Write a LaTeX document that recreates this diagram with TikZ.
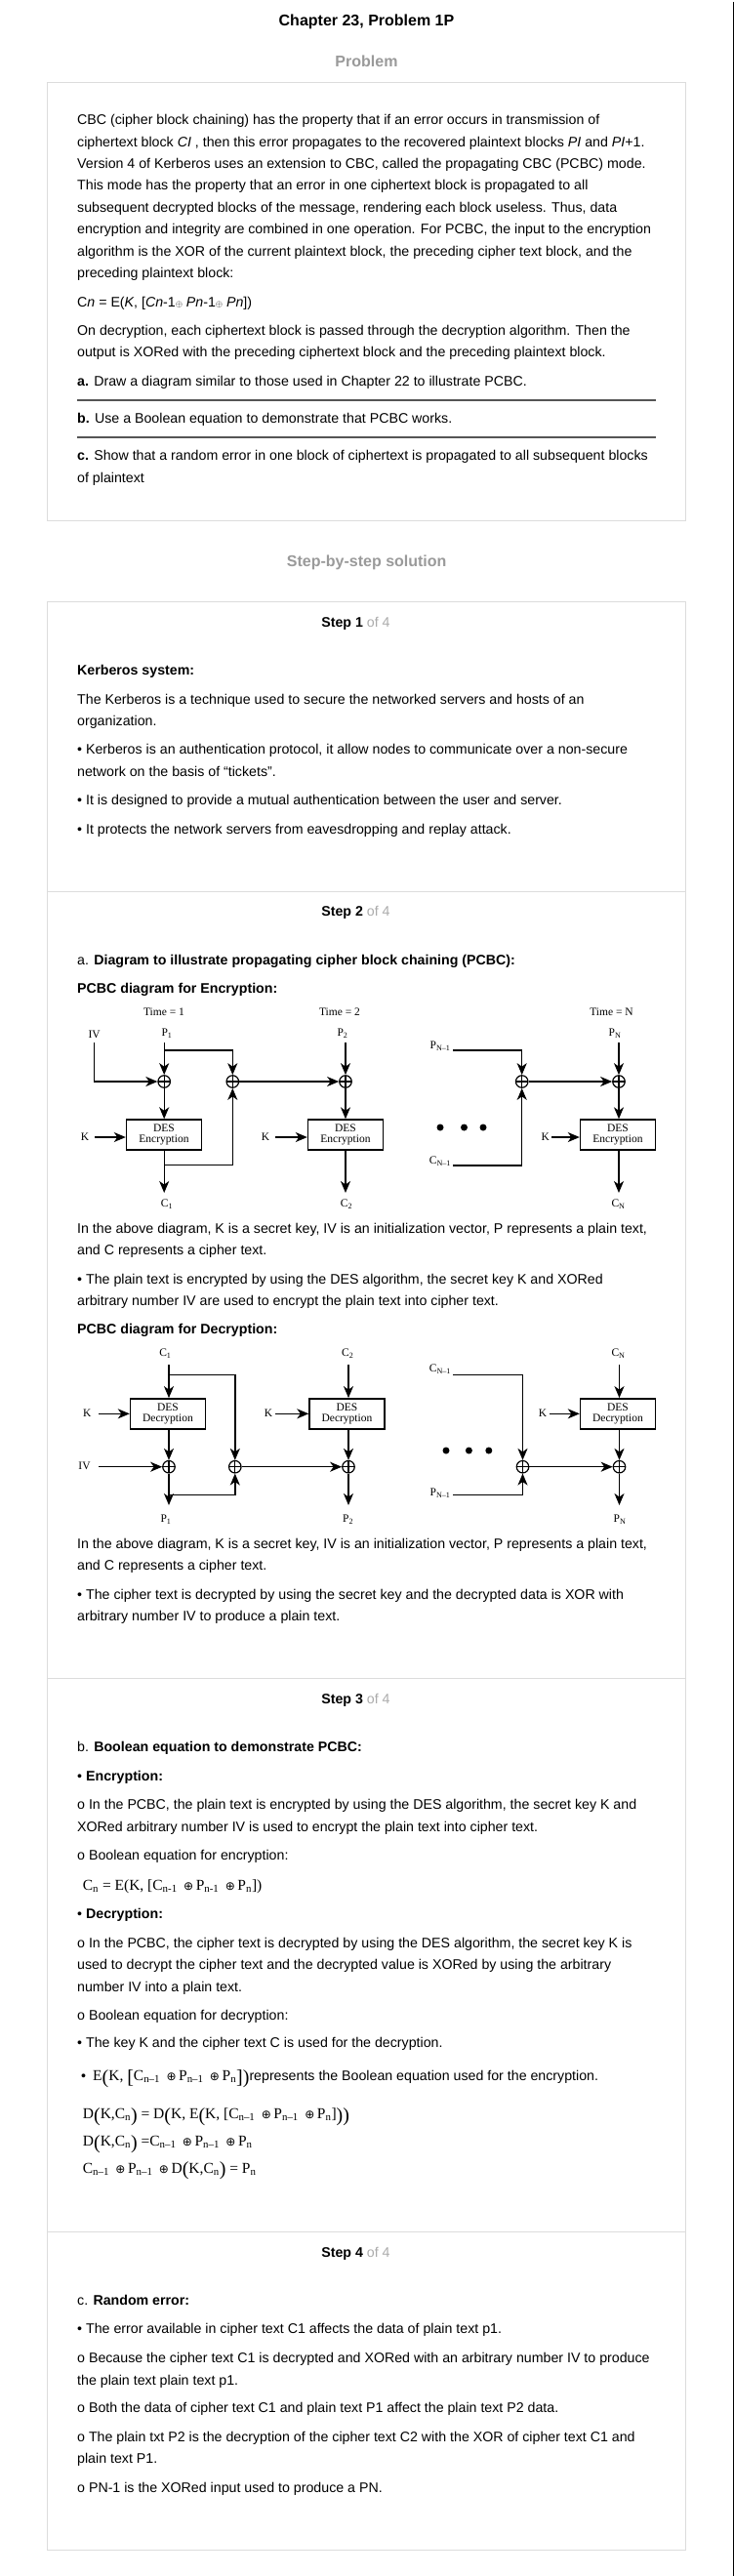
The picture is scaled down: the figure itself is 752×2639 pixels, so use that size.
\documentclass[tikz,border=0pt]{standalone}
\usepackage{fontspec}
\setmainfont{Liberation Sans}
\newfontfamily\serifd{Liberation Serif}
\newfontfamily\dvsans{DejaVu Sans}
\usetikzlibrary{arrows.meta}
\definecolor{boxgray}{HTML}{DCDCDC}
\definecolor{headgray}{HTML}{9A9A9A}
\definecolor{ofgray}{HTML}{ABABAB}
\definecolor{rulegray}{HTML}{555555}
\newcommand{\subs}[1]{\textsubscript{#1}}
\newcommand{\xorsm}{\raisebox{0.5pt}{\fontsize{9}{9}\selectfont$\oplus$}}
\newcommand{\xq}{\,{\dvsans\fontsize{12}{12}\selectfont ⊕}\,}
\newcommand{\Lpar}{\raisebox{-2.5pt}{\fontsize{20}{20}\selectfont(}}
\newcommand{\Rpar}{\raisebox{-2.5pt}{\fontsize{20}{20}\selectfont)}}
\newcommand{\Lbrk}{\raisebox{-2.5pt}{\fontsize{20}{20}\selectfont[}}
\newcommand{\Rbrk}{\raisebox{-2.5pt}{\fontsize{20}{20}\selectfont]}}
\tikzset{
  tx/.style={anchor=base west, inner sep=0pt, font=\fontsize{14.2}{17}\selectfont},
  hd/.style={anchor=base, inner sep=0pt, font=\bfseries\fontsize{16}{19}\selectfont},
  sth/.style={anchor=base west, inner sep=0pt, font=\fontsize{14.2}{17}\selectfont},
  eqn/.style={anchor=base west, inner sep=0pt, font=\serifd\fontsize{15.5}{18}\selectfont},
  boxline/.style={draw=boxgray, line width=1.4pt},
  sepline/.style={draw=boxgray, line width=1.4pt},
  qrule/.style={draw=rulegray, line width=2pt},
  dln/.style={line width=1.4pt},
  dar/.style={line width=1.4pt, -{Stealth[length=12pt,width=10pt,inset=3.5pt]}},
  xor/.style={circle, draw, line width=1.2pt, minimum size=12.5pt, inner sep=0pt,
    path picture={\draw[line width=1.2pt] (path picture bounding box.north) -- (path picture bounding box.south)
      (path picture bounding box.west) -- (path picture bounding box.east);}},
  des/.style={draw, line width=1.4pt, minimum width=77pt, minimum height=31pt, inner sep=0pt,
    align=center, font=\serifd\fontsize{11.5}{11}\selectfont},
  dl/.style={inner sep=0pt, font=\serifd\fontsize{11.5}{12}\selectfont},
  bigdot/.style={circle, fill, inner sep=0pt, minimum size=7pt}
}
\begin{document}
\begin{tikzpicture}[x=1pt,y=-1pt]
\useasboundingbox (0,0) rectangle (752,2639);
\fill[white] (0,0) rectangle (752,2639);
\draw[line width=1.4pt] (751.3,2) -- (751.3,2639);

% ---------- headings ----------
\node[hd] (title) at (375.5,27) {Chapter 23, Problem 1P};
\node[hd, text=headgray] (probh) at (375.5,68.6) {Problem};
\node[hd, text=headgray] (solh) at (375.7,580.7) {Step-by-step solution};

% ---------- problem box ----------
\draw[boxline] (48.7,84.4) rectangle (702.3,533.3);
\node[tx] (q1) at (79,127.8) {CBC (cipher block chaining) has the property that if an error occurs in transmission of};
\node[tx] (q2) at (79,150.5) {ciphertext block \textit{CI} , then this error propagates to the recovered plaintext blocks \textit{PI} and \textit{PI}+1.};
\node[tx] (q3) at (79,172.5) {Version 4 of Kerberos uses an extension to CBC, called the propagating CBC (PCBC) mode.};
\node[tx] (q4) at (79,194.3) {This mode has the property that an error in one ciphertext block is propagated to all};
\node[tx] (q5) at (79,217.7) {subsequent decrypted blocks of the message, rendering each block useless. Thus, data};
\node[tx] (q6) at (79,239.8) {encryption and integrity are combined in one operation. For PCBC, the input to the encryption};
\node[tx] (q7) at (79,262.5) {algorithm is the XOR of the current plaintext block, the preceding cipher text block, and the};
\node[tx] (q8) at (79,284.9) {preceding plaintext block:};
\node[tx] (q9) at (79,314.5) {C\textit{n} = E(\textit{K}, [\textit{Cn}-1\xorsm{} \textit{Pn}-1\xorsm{} \textit{Pn}])};
\node[tx] (q10) at (79,343.8) {On decryption, each ciphertext block is passed through the decryption algorithm. Then the};
\node[tx] (q11) at (79,365.9) {output is XORed with the preceding ciphertext block and the preceding plaintext block.};
\node[tx] (q12) at (79,395.8) {\textbf{a.} Draw a diagram similar to those used in Chapter 22 to illustrate PCBC.};
\draw[qrule] (79,410) -- (671.5,410);
\node[tx] (q13) at (79,433.7) {\textbf{b.} Use a Boolean equation to demonstrate that PCBC works.};
\draw[qrule] (79,447.8) -- (671.5,447.8);
\node[tx] (q14) at (79,471.9) {\textbf{c.} Show that a random error in one block of ciphertext is propagated to all subsequent blocks};
\node[tx] (q15) at (79,494) {of plaintext};

% ---------- solution box ----------
\draw[boxline] (48.7,616.7) rectangle (702.3,2612.2);
\draw[sepline] (48.7,913.3) -- (702.3,913.3);
\draw[sepline] (48.7,1719.3) -- (702.3,1719.3);
\draw[sepline] (48.7,2286.7) -- (702.3,2286.7);

% Step 1
\node[sth] (s1h) at (329.2,642.5) {\textbf{Step 1} \textcolor{ofgray}{of 4}};
\node[tx] (a1) at (79,691.2) {\textbf{Kerberos system:}};
\node[tx] (a2) at (79,721.2) {The Kerberos is a technique used to secure the networked servers and hosts of an};
\node[tx] (a3) at (79,743.8) {organization.};
\node[tx] (a4) at (79,772.8) {• Kerberos is an authentication protocol, it allow nodes to communicate over a non-secure};
\node[tx] (a5) at (79,795.2) {network on the basis of “tickets”.};
\node[tx] (a6) at (79,824.5) {• It is designed to provide a mutual authentication between the user and server.};
\node[tx] (a7) at (79,854.5) {• It protects the network servers from eavesdropping and replay attack.};

% Step 2
\node[sth] (s2h) at (329.2,938.8) {\textbf{Step 2} \textcolor{ofgray}{of 4}};
\node[tx] (b1t) at (79,988.5) {a. \textbf{Diagram to illustrate propagating cipher block chaining (PCBC):}};
\node[tx] (b2t) at (79,1017.8) {\textbf{PCBC diagram for Encryption:}};

% --- encryption diagram ---
\node[dl] (et1) at (168,1037) {Time = 1};
\node[dl] (et2) at (348,1037) {Time = 2};
\node[dl] (etN) at (626.5,1037) {Time = N};
\node[dl] (eiv) at (96.7,1060) {IV};
\node[dl] (ep1) at (171,1059) {P\subs{1}};
\node[dl] (ep2) at (351,1059) {P\subs{2}};
\node[dl] (epN) at (630,1059) {P\subs{N}};
\node[dl] (epN1) at (451,1072) {P\subs{N–1}};
\node[xor] (ex1) at (168.2,1108) {};
\node[xor] (exm) at (238.3,1108) {};
\node[xor] (ex2) at (354,1108) {};
\node[xor] (exn1) at (534.7,1108) {};
\node[xor] (exn) at (634,1108) {};
\node[des] (eb1) at (168,1162.5) {DES\\Encryption};
\node[des] (eb2) at (354,1162.5) {DES\\Encryption};
\node[des] (ebN) at (633,1162.5) {DES\\Encryption};
\node[dl] (ek1) at (87,1165) {K};
\node[dl] (ek2) at (272,1165) {K};
\node[dl] (ekN) at (558.8,1165) {K};
\node[dl] (ec1) at (171,1234) {C\subs{1}};
\node[dl] (ec2) at (355,1234) {C\subs{2}};
\node[dl] (ecN) at (633.5,1234) {C\subs{N}};
\node[dl] (ecN1) at (451,1190) {C\subs{N–1}};
\node[bigdot] (ed1) at (451,1155) {};
\node[bigdot] (ed2) at (475.5,1155) {};
\node[bigdot] (ed3) at (495,1155) {};
\coordinate (eivs) at (96.7,1068);
\coordinate (ep1s) at (168.2,1068);
\coordinate (ebr1) at (168.2,1076);
\coordinate (ebr2) at (168.2,1193.5);
\coordinate (ec1s) at (168.2,1222);
\coordinate (ep2s) at (354,1068);
\coordinate (ec2s) at (354,1222);
\coordinate (epNs) at (634,1068);
\coordinate (ecNs) at (634,1222);
\coordinate (epN1s) at (464,1076);
\coordinate (ecN1s) at (464,1194);
\coordinate (ek1s) at (97,1165);
\coordinate (ek2s) at (282.4,1165);
\coordinate (ekNs) at (565.3,1165);
\draw[dar] (ep1s) -- (ex1);
\draw[dar] (ebr1) -| (exm);
\draw[dar] (eivs) |- (ex1);
\draw[dar] (ex1) -- (eb1.north -| ex1);
\draw[dar] (ek1s) -- (ek1s -| eb1.west);
\draw[dar] (eb1.south -| ex1) -- (ec1s);
\draw[dar] (ebr2) -| (exm);
\draw[dar] (exm) -- (ex2);
\draw[dar] (ep2s) -- (ex2);
\draw[dar] (ex2) -- (eb2.north -| ex2);
\draw[dar] (ek2s) -- (ek2s -| eb2.west);
\draw[dar] (eb2.south -| ex2) -- (ec2s);
\draw[dar] (epN1s) -| (exn1);
\draw[dar] (ecN1s) -| (exn1);
\draw[dar] (exn1) -- (exn);
\draw[dar] (epNs) -- (exn);
\draw[dar] (exn) -- (ebN.north -| exn);
\draw[dar] (ekNs) -- (ekNs -| ebN.west);
\draw[dar] (ebN.south -| exn) -- (ecNs);

\node[tx] (b3t) at (79,1263.8) {In the above diagram, K is a secret key, IV is an initialization vector, P represents a plain text,};
\node[tx] (b4t) at (79,1285.5) {and C represents a cipher text.};
\node[tx] (b5t) at (79,1315.2) {• The plain text is encrypted by using the DES algorithm, the secret key K and XORed};
\node[tx] (b6t) at (79,1337.8) {arbitrary number IV are used to encrypt the plain text into cipher text.};
\node[tx] (b7t) at (79,1366.8) {\textbf{PCBC diagram for Decryption:}};

% --- decryption diagram ---
\node[dl] (dc1) at (169.4,1387) {C\subs{1}};
\node[dl] (dc2) at (356.3,1387) {C\subs{2}};
\node[dl] (dcN) at (633.5,1387) {C\subs{N}};
\node[dl] (dcN1) at (451,1403) {C\subs{N–1}};
\node[des] (db1) at (172,1448.3) {DES\\Decryption};
\node[des] (db2) at (355.5,1448.3) {DES\\Decryption};
\node[des] (dbN) at (633,1448.3) {DES\\Decryption};
\node[dl] (dk1) at (89.4,1448) {K};
\node[dl] (dk2) at (275,1448) {K};
\node[dl] (dkN) at (556,1448) {K};
\node[dl] (div) at (86.5,1502) {IV};
\node[xor] (dx1) at (173,1502.7) {};
\node[xor] (dxm) at (240.8,1502.7) {};
\node[xor] (dx2) at (357,1502.7) {};
\node[xor] (dxn1) at (535.5,1502.7) {};
\node[xor] (dxn) at (634.5,1502.7) {};
\node[dl] (dp1) at (170,1557) {P\subs{1}};
\node[dl] (dp2) at (356.7,1557) {P\subs{2}};
\node[dl] (dpN) at (635,1557) {P\subs{N}};
\node[dl] (dpN1) at (451,1530) {P\subs{N–1}};
\node[bigdot] (dd1) at (457,1486) {};
\node[bigdot] (dd2) at (480.4,1486) {};
\node[bigdot] (dd3) at (500.8,1486) {};
\coordinate (dc1s) at (173,1398);
\coordinate (dbr1) at (173,1408.3);
\coordinate (dbr2) at (173,1531.7);
\coordinate (dp1s) at (173,1542);
\coordinate (dc2s) at (357,1398);
\coordinate (dp2s) at (357,1542);
\coordinate (dcNs) at (634.5,1398);
\coordinate (dpNs) at (634.5,1542);
\coordinate (dcN1s) at (464,1408.3);
\coordinate (dpN1s) at (464,1531.7);
\coordinate (dk1s) at (100.8,1448.3);
\coordinate (dk2s) at (282.4,1448.3);
\coordinate (dkNs) at (563,1448.3);
\coordinate (divs) at (100.8,1502.7);
\draw[dar] (dc1s) -- (dc1s |- db1.north);
\draw[dar] (dbr1) -| (dxm);
\draw[dar] (dk1s) -- (dk1s -| db1.west);
\draw[dar] (db1.south -| dx1) -- (dx1);
\draw[dar] (divs) -- (dx1);
\draw[dar] (dx1) -- (dp1s);
\draw[dar] (dbr2) -| (dxm);
\draw[dar] (dxm) -- (dx2);
\draw[dar] (dc2s) -- (dc2s |- db2.north);
\draw[dar] (dk2s) -- (dk2s -| db2.west);
\draw[dar] (db2.south -| dx2) -- (dx2);
\draw[dar] (dx2) -- (dp2s);
\draw[dar] (dcN1s) -| (dxn1);
\draw[dar] (dpN1s) -| (dxn1);
\draw[dar] (dxn1) -- (dxn);
\draw[dar] (dcNs) -- (dcNs |- dbN.north);
\draw[dar] (dkNs) -- (dkNs -| dbN.west);
\draw[dar] (dbN.south -| dxn) -- (dxn);
\draw[dar] (dxn) -- (dpNs);

\node[tx] (b8t) at (79,1586.8) {In the above diagram, K is a secret key, IV is an initialization vector, P represents a plain text,};
\node[tx] (b9t) at (79,1608.5) {and C represents a cipher text.};
\node[tx] (b10t) at (79,1638.5) {• The cipher text is decrypted by using the secret key and the decrypted data is XOR with};
\node[tx] (b11t) at (79,1660.5) {arbitrary number IV to produce a plain text.};

% Step 3
\node[sth] (s3h) at (329.2,1745.5) {\textbf{Step 3} \textcolor{ofgray}{of 4}};
\node[tx] (c1t) at (79,1794.5) {b. \textbf{Boolean equation to demonstrate PCBC:}};
\node[tx] (c2t) at (79,1824.5) {• \textbf{Encryption:}};
\node[tx] (c3t) at (79,1853.8) {o In the PCBC, the plain text is encrypted by using the DES algorithm, the secret key K and};
\node[tx] (c4t) at (79,1876.8) {XORed arbitrary number IV is used to encrypt the plain text into cipher text.};
\node[tx] (c5t) at (79,1905.5) {o Boolean equation for encryption:};
\node[eqn] (c6t) at (84.7,1936.5) {C\subs{n} = E(K, [C\subs{n-1} \xq P\subs{n-1} \xq P\subs{n}])};
\node[tx] (c7t) at (79,1965.5) {• \textbf{Decryption:}};
\node[tx] (c8t) at (79,1995.5) {o In the PCBC, the cipher text is decrypted by using the DES algorithm, the secret key K is};
\node[tx] (c9t) at (79,2017.2) {used to decrypt the cipher text and the decrypted value is XORed by using the arbitrary};
\node[tx] (c10t) at (79,2040.5) {number IV into a plain text.};
\node[tx] (c11t) at (79,2069.5) {o Boolean equation for decryption:};
\node[tx] (c12t) at (79,2097.8) {• The key K and the cipher text C is used for the decryption.};
\node[tx] (c13b) at (83,2131.5) {•};
\node[tx] (c13t) at (95,2131.5) {{\serifd\fontsize{15.5}{18}\selectfont E\Lpar K, \Lbrk C\subs{n–1} \xq P\subs{n–1} \xq P\subs{n}\Rbrk\Rpar}represents the Boolean equation used for the encryption.};
\node[eqn] (c14t) at (84.7,2170.5) {D\Lpar K,C\subs{n}\Rpar{} = D\Lpar K, E\Lpar K, [C\subs{n–1} \xq P\subs{n–1} \xq P\subs{n}]\Rpar\Rpar};
\node[eqn] (c15t) at (84.7,2198.5) {D\Lpar K,C\subs{n}\Rpar{} =C\subs{n–1} \xq P\subs{n–1} \xq P\subs{n}};
\node[eqn] (c16t) at (84.7,2226) {C\subs{n–1} \xq P\subs{n–1} \xq D\Lpar K,C\subs{n}\Rpar{} = P\subs{n}};

% Step 4
\node[sth] (s4h) at (329.2,2312.5) {\textbf{Step 4} \textcolor{ofgray}{of 4}};
\node[tx] (d1t) at (79,2361.5) {c. \textbf{Random error:}};
\node[tx] (d2t) at (79,2390.5) {• The error available in cipher text C1 affects the data of plain text p1.};
\node[tx] (d3t) at (79,2420.8) {o Because the cipher text C1 is decrypted and XORed with an arbitrary number IV to produce};
\node[tx] (d4t) at (79,2443.1) {the plain text plain text p1.};
\node[tx] (d5t) at (79,2471.5) {o Both the data of cipher text C1 and plain text P1 affect the plain text P2 data.};
\node[tx] (d6t) at (79,2501.5) {o The plain txt P2 is the decryption of the cipher text C2 with the XOR of cipher text C1 and};
\node[tx] (d7t) at (79,2523.9) {plain text P1.};
\node[tx] (d8t) at (79,2553.8) {o PN-1 is the XORed input used to produce a PN.};
\end{tikzpicture}
\end{document}
